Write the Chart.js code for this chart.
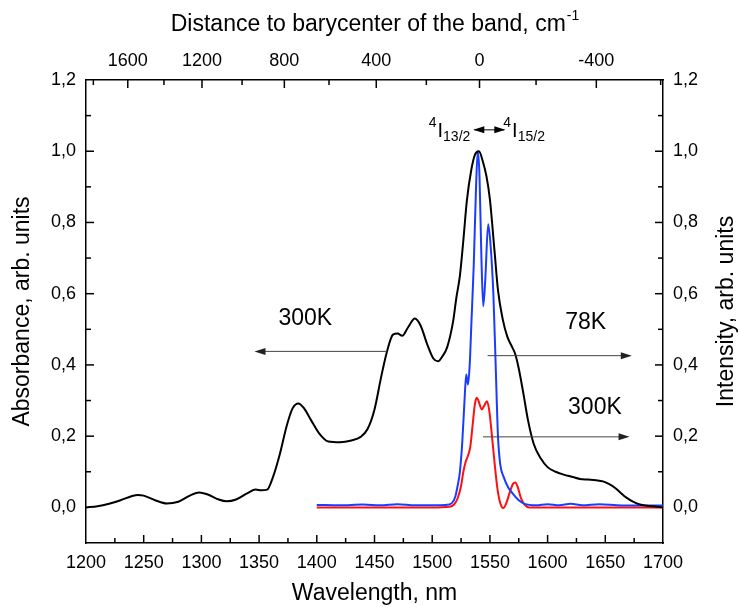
<!DOCTYPE html>
<html>
<head>
<meta charset="utf-8">
<script src="https://cdn.jsdelivr.net/npm/chart.js@4"></script>
<style>
  body { margin: 0; background: #fff; }
</style>
</head>
<body>
<canvas id="spectra" width="740" height="607"></canvas>
<script>
// absorbance at 300K (left axis)
const absWl  = [1200, 1210, 1220, 1230, 1240, 1245, 1250, 1260, 1270, 1280, 1290, 1298, 1305, 1315, 1322, 1330, 1340, 1347, 1352, 1357,
                1362, 1368, 1374, 1379, 1384, 1389, 1395, 1402, 1410, 1420, 1430, 1438, 1444, 1450, 1456, 1461, 1466, 1470, 1474, 1479,
                1485, 1490, 1496, 1501, 1505, 1509, 1513, 1518, 1521, 1524, 1527, 1530, 1534, 1537, 1540.5, 1544, 1547, 1550, 1554, 1557,
                1561, 1565, 1569, 1572, 1575, 1579, 1583, 1588, 1594, 1600, 1607, 1614, 1621, 1628, 1635, 1642, 1648, 1653, 1658, 1663,
                1668, 1674, 1680, 1690, 1700];
const absVal = [0.000, 0.003, 0.010, 0.020, 0.032, 0.035, 0.033, 0.020, 0.011, 0.016, 0.033, 0.042, 0.037, 0.022, 0.017, 0.022, 0.040, 0.050, 0.048, 0.050,
                0.085, 0.150, 0.230, 0.278, 0.292, 0.278, 0.245, 0.208, 0.185, 0.183, 0.188, 0.198, 0.220, 0.275, 0.370, 0.440, 0.485, 0.488, 0.482, 0.505,
                0.530, 0.510, 0.455, 0.418, 0.410, 0.425, 0.450, 0.520, 0.590, 0.650, 0.750, 0.860, 0.950, 0.990, 1.000, 0.970, 0.930, 0.865, 0.720, 0.610,
                0.530, 0.480, 0.452, 0.430, 0.390, 0.320, 0.245, 0.178, 0.138, 0.113, 0.100, 0.092, 0.086, 0.080, 0.078, 0.076, 0.073, 0.066, 0.056, 0.042,
                0.028, 0.016, 0.008, 0.003, 0.000];

// luminescence at 78K (right axis)
const pl78Wl  = [1400, 1420, 1440, 1455, 1470, 1485, 1500, 1512, 1517, 1520, 1522, 1524, 1526, 1528, 1529.5, 1531, 1532.5, 1534, 1536, 1538,
                 1539.5, 1541, 1542.5, 1544.2, 1546, 1548.5, 1550.5, 1553, 1555, 1557, 1559, 1562, 1566, 1570, 1575, 1580, 1590, 1600, 1610, 1620,
                 1630, 1645, 1660, 1680, 1700];
const pl78Val = [0.007, 0.006, 0.008, 0.006, 0.009, 0.006, 0.006, 0.007, 0.012, 0.030, 0.060, 0.100, 0.180, 0.300, 0.373, 0.345, 0.400, 0.520, 0.680, 0.900,
                 1.000, 0.930, 0.720, 0.565, 0.640, 0.795, 0.740, 0.600, 0.400, 0.200, 0.120, 0.085, 0.055, 0.038, 0.020, 0.010, 0.006, 0.009, 0.006, 0.010,
                 0.006, 0.009, 0.006, 0.005, 0.005];

// luminescence at 300K (right axis)
const pl300Wl  = [1400, 1450, 1500, 1515, 1519, 1522, 1525, 1527, 1529, 1531, 1533, 1535, 1537, 1538.6, 1540, 1543, 1545, 1547.5, 1549.5, 1551.5,
                  1553, 1555, 1557, 1559, 1561.5, 1564, 1567, 1570, 1572, 1574, 1577, 1580, 1584, 1600, 1650, 1700];
const pl300Val = [0.000, 0.000, 0.000, 0.002, 0.008, 0.025, 0.060, 0.100, 0.128, 0.145, 0.170, 0.230, 0.290, 0.308, 0.300, 0.275, 0.285, 0.298, 0.270, 0.210,
                  0.160, 0.095, 0.042, 0.012, -0.002, 0.010, 0.040, 0.066, 0.070, 0.058, 0.025, 0.008, 0.000, 0.000, 0.000, 0.000];

// tick labels
const wlTicks = [1200, 1250, 1300, 1350, 1400, 1450, 1500, 1550, 1600, 1650, 1700];
const yTicks = [0, 0.2, 0.4, 0.6, 0.8, 1.0, 1.2];
const distTicks = [1600, 1200, 800, 400, 0, -400];
const distMinor = [1800, 1400, 1000, 600, 200, -200, -600];
const barycenter = 1541; // nm

const FONT = "'Liberation Sans', Arial, sans-serif";
const toXY = (xs, ys) => xs.map((x, i) => ({ x: x, y: ys[i] }));
const comma = v => v.toFixed(1).replace('.', ',');
const distToWl = d => 1e7 / (1e7 / barycenter + d);

// text + arrows drawn in data coordinates
const notes = [
  { text: '300K', x: 1390, y: 0.53, from: 1461, to: 1346, at: 0.438 },
  { text: '78K',  x: 1633, y: 0.52, from: 1548, to: 1673, at: 0.426 },
  { text: '300K', x: 1641, y: 0.28, from: 1544, to: 1671, at: 0.198 }
];

function arrowHead(ctx, x, y, dir) {
  ctx.beginPath();
  ctx.moveTo(x, y);
  ctx.lineTo(x - dir * 11, y - 3.5);
  ctx.lineTo(x - dir * 11, y + 3.5);
  ctx.closePath();
  ctx.fill();
}

const extras = {
  id: 'extras',
  afterDraw(chart) {
    const ctx = chart.ctx;
    const a = chart.chartArea;
    const sx = chart.scales.x, sy = chart.scales.y;
    ctx.save();

    // inward tick marks
    ctx.strokeStyle = '#000';
    ctx.lineWidth = 1.5;
    const mark = (x1, y1, x2, y2) => { ctx.beginPath(); ctx.moveTo(x1, y1); ctx.lineTo(x2, y2); ctx.stroke(); };
    for (let v = 1225; v < 1700; v += 25) {
      const px = sx.getPixelForValue(v);
      mark(px, a.bottom, px, a.bottom - (v % 50 === 0 ? 8 : 5));
    }
    distTicks.forEach(d => { const px = sx.getPixelForValue(distToWl(d)); mark(px, a.top, px, a.top + 8); });
    distMinor.forEach(d => {
      const w = distToWl(d);
      if (w > 1201 && w < 1699) { const px = sx.getPixelForValue(w); mark(px, a.top, px, a.top + 5); }
    });
    for (let i = 1; i < 12; i++) {
      const py = sy.getPixelForValue(i / 10);
      const len = i % 2 === 0 ? 8 : 5;
      mark(a.left, py, a.left + len, py);
      mark(a.right, py, a.right - len, py);
    }

    // top title with superscript
    ctx.fillStyle = '#000';
    ctx.textBaseline = 'alphabetic';
    const main = 'Distance to barycenter of the band, cm';
    ctx.font = '23px ' + FONT;
    const w1 = ctx.measureText(main).width;
    ctx.font = '14px ' + FONT;
    const w2 = ctx.measureText('-1').width;
    let tx = (a.left + a.right) / 2 - (w1 + w2) / 2;
    ctx.font = '23px ' + FONT;
    ctx.textAlign = 'left';
    ctx.fillText(main, tx, 31);
    ctx.font = '14px ' + FONT;
    ctx.fillText('-1', tx + w1 + 1, 20);

    // right axis title, reading upward like the left one
    ctx.save();
    ctx.translate(727, (a.top + a.bottom) / 2);
    ctx.rotate(-Math.PI / 2);
    ctx.font = '23px ' + FONT;
    ctx.textAlign = 'center';
    ctx.textBaseline = 'middle';
    ctx.fillText('Intensity, arb. units', 0, 0);
    ctx.restore();

    // transition label  4I13/2 <-> 4I15/2
    ctx.textAlign = 'left';
    ctx.textBaseline = 'alphabetic';
    const cx = sx.getPixelForValue(1549.5), cy = sy.getPixelForValue(1.06);
    ctx.font = '20px ' + FONT;
    const wI = ctx.measureText('I').width;
    ctx.font = '14px ' + FONT;
    const w4 = ctx.measureText('4').width;
    const w13 = ctx.measureText('13/2').width;
    let lx = cx - 20 - (w4 + wI + w13);
    ctx.fillText('4', lx, cy - 3);
    ctx.font = '20px ' + FONT;
    ctx.fillText('I', lx + w4 + 1, cy + 7);
    ctx.font = '14px ' + FONT;
    ctx.fillText('13/2', lx + w4 + wI + 1, cy + 11);
    let rx = cx + 14;
    ctx.fillText('4', rx, cy - 3);
    ctx.font = '20px ' + FONT;
    ctx.fillText('I', rx + w4 + 1, cy + 7);
    ctx.font = '14px ' + FONT;
    ctx.fillText('15/2', rx + w4 + wI + 1, cy + 11);
    ctx.strokeStyle = '#000';
    ctx.lineWidth = 1;
    mark(cx - 15, cy, cx + 15, cy);
    arrowHead(ctx, cx - 16, cy, -1);
    arrowHead(ctx, cx + 16, cy, 1);

    // temperature notes with arrows
    ctx.strokeStyle = '#444';
    ctx.fillStyle = '#000';
    notes.forEach(n => {
      ctx.font = '23px ' + FONT;
      ctx.textAlign = 'center';
      ctx.textBaseline = 'middle';
      ctx.fillText(n.text, sx.getPixelForValue(n.x), sy.getPixelForValue(n.y));
      const y = sy.getPixelForValue(n.at);
      const x1 = sx.getPixelForValue(n.from), x2 = sx.getPixelForValue(n.to);
      const dir = x2 > x1 ? 1 : -1;
      ctx.lineWidth = 1;
      mark(x1, y, x2 - dir * 6, y);
      ctx.fillStyle = '#222';
      arrowHead(ctx, x2, y, dir);
      ctx.fillStyle = '#000';
    });
    ctx.restore();
  }
};

const tickFont = { family: FONT, size: 18 };
const titleFont = { family: FONT, size: 23 };
const border = { display: true, color: '#000', width: 1.5 };
const noGrid = { display: false, drawTicks: false };

new Chart(document.getElementById('spectra').getContext('2d'), {
  type: 'line',
  data: {
    datasets: [
      { label: 'Absorbance 300K', data: toXY(absWl, absVal), yAxisID: 'y', xAxisID: 'x',
        borderColor: '#000000', borderWidth: 2, pointRadius: 0, cubicInterpolationMode: 'monotone' },
      { label: 'PL 78K', data: toXY(pl78Wl, pl78Val), yAxisID: 'y2', xAxisID: 'x',
        borderColor: '#1a3cff', borderWidth: 2, pointRadius: 0, cubicInterpolationMode: 'monotone' },
      { label: 'PL 300K', data: toXY(pl300Wl, pl300Val), yAxisID: 'y2', xAxisID: 'x',
        borderColor: '#ff1010', borderWidth: 2, pointRadius: 0, cubicInterpolationMode: 'monotone' }
    ]
  },
  options: {
    responsive: false,
    animation: false,
    layout: { padding: 0 },
    plugins: { legend: { display: false }, tooltip: { enabled: false } },
    scales: {
      x: {
        type: 'linear', position: 'bottom', min: 1200, max: 1700,
        grid: noGrid, border: border,
        afterBuildTicks: s => { s.ticks = wlTicks.map(v => ({ value: v })); },
        afterFit: s => { s.height = 64; },
        ticks: { font: tickFont, color: '#000', padding: 9, autoSkip: false, maxRotation: 0, callback: v => String(v) },
        title: { display: true, text: 'Wavelength, nm', font: titleFont, color: '#000', padding: { top: 0, bottom: 0 } }
      },
      x2: {
        type: 'linear', position: 'top', min: 1200, max: 1700,
        grid: noGrid, border: border,
        afterBuildTicks: s => { s.ticks = distTicks.map(d => ({ value: distToWl(d) })); },
        afterFit: s => { s.height = 80; },
        ticks: { font: tickFont, color: '#000', padding: 8, autoSkip: false, maxRotation: 0,
                 callback: (v, i) => String(distTicks[i]) }
      },
      y: {
        type: 'linear', position: 'left', min: -0.1, max: 1.2,
        grid: noGrid, border: border,
        afterBuildTicks: s => { s.ticks = yTicks.map(v => ({ value: v })); },
        afterFit: s => { s.width = 86; },
        ticks: { font: tickFont, color: '#000', padding: 10, autoSkip: false, callback: v => comma(v) },
        title: { display: true, text: 'Absorbance, arb. units', font: titleFont, color: '#000', padding: { top: 9, bottom: 0 } }
      },
      y2: {
        type: 'linear', position: 'right', min: -0.1, max: 1.2,
        grid: noGrid, border: border,
        afterBuildTicks: s => { s.ticks = yTicks.map(v => ({ value: v })); },
        afterFit: s => { s.width = 77; },
        ticks: { font: tickFont, color: '#000', padding: 10, autoSkip: false, callback: v => comma(v) }
      }
    }
  },
  plugins: [extras]
});
</script>
</body>
</html>
